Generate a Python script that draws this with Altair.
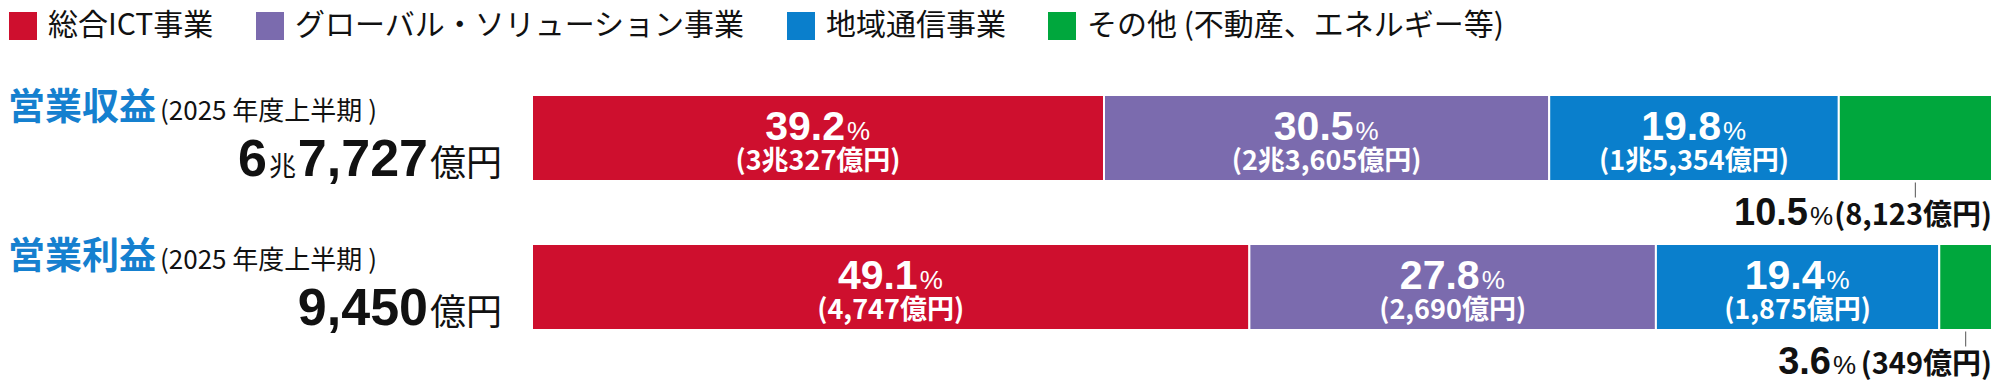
import altair as alt
import pandas as pd

# ---------------- data ----------------
segments = [
    "総合ICT事業",
    "グローバル・ソリューション事業",
    "地域通信事業",
    "その他 (不動産、エネルギー等)",
]
rows = ["営業収益", "営業利益"]
period_label = "(2025 年度上半期 )"

revenue_amounts = [30327, 23605, 15354, 8123]          # 億円
profit_amounts = [4747, 2690, 1875, 349]               # 億円
revenue_pct_labels = ["39.2", "30.5", "19.8", "10.5"]
profit_pct_labels = ["49.1", "27.8", "19.4", "3.6"]
revenue_amount_labels = ["(3兆327億円)", "(2兆3,605億円)", "(1兆5,354億円)", "(8,123億円)"]
profit_amount_labels = ["(4,747億円)", "(2,690億円)", "(1,875億円)", "(349億円)"]

total_trillion = ["6", ""]
total_trillion_unit = ["兆", ""]
total_major = ["7,727", "9,450"]
total_unit = ["億円", "億円"]

palette = ["#CE0F2E", "#7B6BAE", "#0A7FCC", "#00A73D"]
title_blue = "#1580CF"

# ---------------- tables ----------------
recs = []
for r, amts, pcts, subs in [
    (rows[0], revenue_amounts, revenue_pct_labels, revenue_amount_labels),
    (rows[1], profit_amounts, profit_pct_labels, profit_amount_labels),
]:
    for i, seg in enumerate(segments):
        recs.append(dict(row=r, segment=seg, order=i, amount=amts[i], pct=pcts[i], sub=subs[i]))
df = pd.DataFrame(recs)

info = pd.DataFrame(dict(row=rows, period=[period_label] * 2, cho=total_trillion,
                         chou=total_trillion_unit, major=total_major, unit=total_unit))

JP = "Noto Sans CJK JP"
NUM = "Liberation Sans"
TOP = 87

yscale = alt.Scale(paddingInner=0.4228, paddingOuter=0)
xscale = alt.Scale(domain=[0, 1], nice=False, zero=False)


def Y():
    return alt.Y("row:N", sort=rows, axis=None, scale=yscale)


base = (
    alt.Chart(df)
    .transform_stack(stack="amount", groupby=["row"], as_=["x0", "x1"], offset="normalize",
                     sort=[alt.SortField(field="order", order="ascending")])
    .transform_calculate(mid="(datum.x0 + datum.x1) / 2")
)

bars = base.mark_bar(stroke="white", strokeWidth=2).encode(
    x=alt.X("x0:Q", axis=None, scale=xscale),
    x2="x1:Q",
    y=Y(),
    color=alt.Color(
        "segment:N",
        scale=alt.Scale(domain=segments, range=palette),
        legend=alt.Legend(
            orient="none", legendX=-524, legendY=-TOP + 3, direction="horizontal", columns=4,
            title=None, symbolType="square", symbolSize=784, symbolStrokeWidth=0,
            symbolOpacity=1, labelFont=JP, labelFontSize=30, labelColor="#111",
            labelOffset=10, columnPadding=41, labelLimit=1000,
        ),
    ),
)

inside = base.transform_filter("datum.order < 3")
outside = base.transform_filter("datum.order == 3")

pct_in = inside.mark_text(font=NUM, fontWeight="bold", fontSize=41, color="white",
                          align="right", baseline="alphabetic", dx=27, dy=2).encode(
    x=alt.X("mid:Q", axis=None, scale=xscale), y=Y(), text="pct:N")
sign_in = inside.mark_text(font=NUM, fontSize=26, color="white",
                           align="left", baseline="alphabetic", dx=29, dy=2).encode(
    x=alt.X("mid:Q", axis=None, scale=xscale), y=Y(), text=alt.value("%"))
sub_in = inside.mark_text(font=JP, fontWeight="bold", fontSize=27, color="white",
                          align="center", baseline="alphabetic", dy=32).encode(
    x=alt.X("mid:Q", axis=None, scale=xscale), y=Y(), text="sub:N")

tick = outside.mark_tick(orient="vertical", size=15, thickness=1.2, color="#333", yOffset=52).encode(
    x=alt.X("mid:Q", axis=None, scale=xscale), y=Y())
sub_out = outside.mark_text(font=JP, fontWeight="bold", fontSize=29, color="#111",
                            align="right", baseline="alphabetic", dy=87).encode(
    x=alt.X("x1:Q", axis=None, scale=xscale), y=Y(), text="sub:N")

# offsets of the "%" sign and the percentage, measured leftwards from the bar end, per row
outside_offsets = {rows[0]: (-159, -184), rows[1]: (-136, -161)}
out_layers = []
for r, (dsign, dpct) in outside_offsets.items():
    sel = outside.transform_filter(alt.datum.row == r)
    out_layers.append(sel.mark_text(font=NUM, fontSize=26, color="#111",
                                    align="right", baseline="alphabetic", dx=dsign, dy=87).encode(
        x=alt.X("x1:Q", axis=None, scale=xscale), y=Y(), text=alt.value("%")))
    out_layers.append(sel.mark_text(font=NUM, fontWeight="bold", fontSize=38, color="#111",
                                    align="right", baseline="alphabetic", dx=dpct, dy=87).encode(
        x=alt.X("x1:Q", axis=None, scale=xscale), y=Y(), text="pct:N"))

ib = alt.Chart(info)
title = ib.mark_text(font=JP, fontWeight="bold", fontSize=37, color=title_blue,
                     align="left", baseline="alphabetic", dy=-18).encode(
    x=alt.value(-524), y=Y(), text="row:N")
period = ib.mark_text(font=JP, fontSize=26, color="#111",
                      align="left", baseline="alphabetic", dy=-18).encode(
    x=alt.value(-372), y=Y(), text="period:N")
t_unit = ib.mark_text(font=JP, fontSize=36, color="#111",
                      align="right", baseline="alphabetic", dy=38).encode(
    x=alt.value(-30), y=Y(), text="unit:N")
t_major = ib.mark_text(font=NUM, fontWeight="bold", fontSize=52, color="#111",
                       align="right", baseline="alphabetic", dy=38).encode(
    x=alt.value(-104), y=Y(), text="major:N")
t_chou = ib.mark_text(font=JP, fontSize=27, color="#111",
                      align="right", baseline="alphabetic", dy=38).encode(
    x=alt.value(-236), y=Y(), text="chou:N")
t_cho = ib.mark_text(font=NUM, fontWeight="bold", fontSize=52, color="#111",
                     align="right", baseline="alphabetic", dy=38).encode(
    x=alt.value(-265), y=Y(), text="cho:N")

chart = (
    alt.layer(bars, pct_in, sign_in, sub_in, tick, sub_out, *out_layers,
              title, period, t_unit, t_major, t_chou, t_cho)
    .properties(width=1460, height=235,
                padding={"left": 524, "top": TOP, "right": 0, "bottom": 374 - TOP - 235},
                autosize=alt.AutoSizeParams(type="none"),
                background="white")
    .configure_view(stroke="transparent")
)

chart.save("out.html", embed_options={"renderer": "svg", "actions": False})
